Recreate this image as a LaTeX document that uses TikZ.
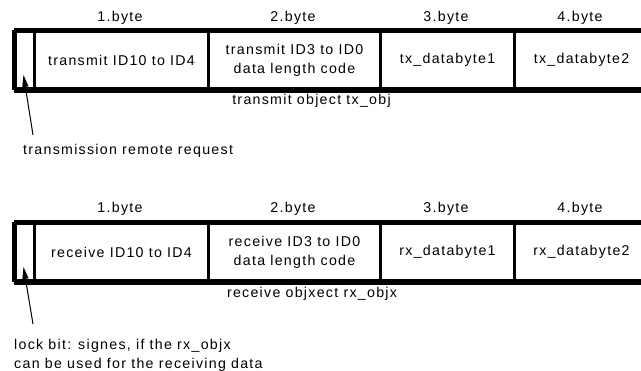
\documentclass[tikz,border=0pt]{standalone}
\usepackage{fontspec}
\setmainfont{Liberation Sans}[LetterSpace=9]
\usetikzlibrary{calc}
\tikzset{
  txt/.style={font=\fontsize{14.2}{19}\selectfont, inner sep=0pt, align=center},
  cell/.style={draw, line width=3pt, minimum height=57.5pt, inner sep=0pt,
    font=\fontsize{14.2}{19}\selectfont, align=center, anchor=north west},
  frame/.style={line width=4.2pt},
  bitline/.style={line width=1pt},
  bithead/.style={fill=black}
}
% pointer from (#1) with filled head at (#2)
\newcommand{\bitpointer}[2]{%
  \coordinate (hb) at ($(#2)!12pt!(#1)$);
  \draw[bitline] (#1) -- (hb);
  \fill[bithead] (#2) -- ($(hb)!3.2pt!90:(#1)$) -- ($(hb)!3.2pt!-90:(#1)$) -- cycle;
}
\begin{document}
\begin{tikzpicture}[x=1pt,y=1pt]
\useasboundingbox (0,0) rectangle (641,-371);

% ---------- transmit object ----------
\node[txt, anchor=base] (tb1) at (120,-21.7) {1.byte};
\node[txt, anchor=base] (tb2) at (293,-21.7) {2.byte};
\node[txt, anchor=base] (tb3) at (446,-21.7) {3.byte};
\node[txt, anchor=base] (tb4) at (580,-21.7) {4.byte};

\node[cell, minimum width=19pt]  (trr) at (14,-30) {};
\node[cell, minimum width=174pt] (tid) at (33,-30) {transmit ID10 to ID4};
\node[cell, minimum width=172pt] (tdl) at (207,-30) {transmit ID3 to ID0\\data length code};
\node[cell, minimum width=134pt] (td1) at (379,-30) {tx\_databyte1};
\node[cell, minimum width=134pt] (td2) at (513,-30) {tx\_databyte2};
\draw[frame] (trr.north west) -- (td2.north east);
\draw[frame] (trr.south west) -- (td2.south east);
\draw[frame] (trr.north west) -- (trr.south west);

\node[txt, anchor=base] (tobj) at (311.5,-105) {transmit object tx\_obj};
\node[txt, anchor=base west] (trrlbl) at (23,-155) {transmission remote request};
\coordinate (trrtail) at (33,-135);
\coordinate (trrtip) at (23.5,-75);
\bitpointer{trrtail}{trrtip}

% ---------- receive object ----------
\node[txt, anchor=base] (rb1) at (120,-213) {1.byte};
\node[txt, anchor=base] (rb2) at (293,-213) {2.byte};
\node[txt, anchor=base] (rb3) at (446,-213) {3.byte};
\node[txt, anchor=base] (rb4) at (580,-213) {4.byte};

\node[cell, minimum width=19pt]  (rlk) at (14,-222) {};
\node[cell, minimum width=174pt] (rid) at (33,-222) {receive ID10 to ID4};
\node[cell, minimum width=172pt] (rdl) at (207,-222) {receive ID3 to ID0\\data length code};
\node[cell, minimum width=134pt] (rd1) at (379,-222) {rx\_databyte1};
\node[cell, minimum width=134pt] (rd2) at (513,-222) {rx\_databyte2};
\draw[frame] (rlk.north west) -- (rd2.north east);
\draw[frame] (rlk.south west) -- (rd2.south east);
\draw[frame] (rlk.north west) -- (rlk.south west);

\node[txt, anchor=base] (robj) at (312,-298) {receive objxect rx\_objx};
\node[txt, anchor=north west, align=left] (rlklbl) at (14,-339)
  {lock bit: signes, if the rx\_objx\\can be used for the receiving data};
\coordinate (rlktail) at (33,-324);
\coordinate (rlktip) at (23.5,-267);
\bitpointer{rlktail}{rlktip}
\end{tikzpicture}
\end{document}
